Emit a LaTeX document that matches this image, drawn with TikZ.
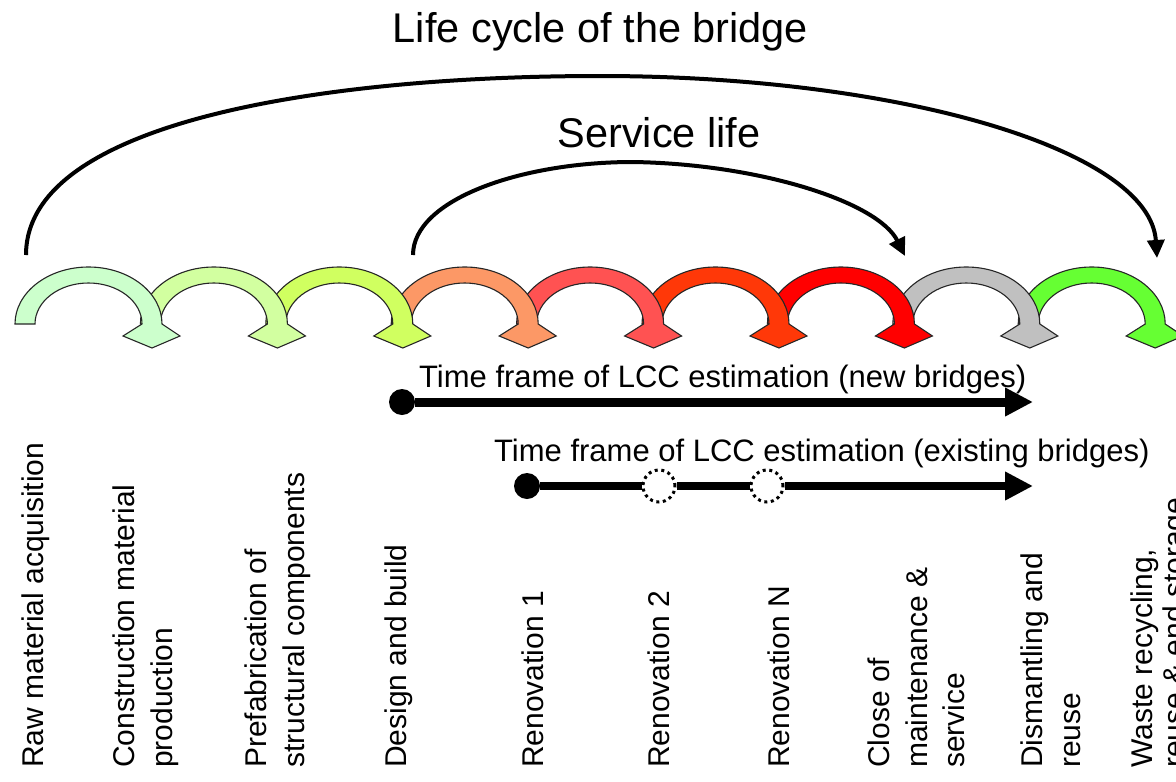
\documentclass[tikz,border=0pt]{standalone}
\usepackage{fontspec}
\setmainfont{Liberation Sans}
\usetikzlibrary{arrows.meta}

\definecolor{stageA}{RGB}{204,255,204}
\definecolor{stageB}{RGB}{210,255,160}
\definecolor{stageC}{RGB}{208,255,96}
\definecolor{stageD}{RGB}{252,152,102}
\definecolor{stageE}{RGB}{255,82,82}
\definecolor{stageF}{RGB}{255,56,8}
\definecolor{stageG}{RGB}{255,0,0}
\definecolor{stageH}{RGB}{192,192,192}
\definecolor{stageI}{RGB}{102,255,51}

\tikzset{
  phase/.style={draw=black!85, line width=1.1pt},
  stagetext/.style={rotate=90, anchor=north west, inner sep=0pt, align=left,
    font=\fontsize{30}{37.5}\selectfont},
  headline/.style={anchor=base, inner sep=0pt, font=\fontsize{41.5}{48}\selectfont},
  frametext/.style={anchor=base west, inner sep=0pt, font=\fontsize{31}{36}\selectfont},
  span/.style={line width=4pt, -{Triangle[length=18pt,width=17pt]}},
  timeline/.style={line width=9pt},
  startdot/.style={circle, fill=black, minimum size=26pt, inner sep=0pt},
  renodot/.style={circle, draw, fill=white, line width=3pt,
    dash pattern=on 3pt off 3.6pt, minimum size=32pt, inner sep=0pt},
}

\begin{document}
\begin{tikzpicture}[x=1pt, y=1pt]
  \useasboundingbox (0,0) rectangle (1176,-782);

  % headings
  \node[headline] (cycle) at (600.5,-42) {Life cycle of the bridge};
  \node[headline] (service) at (659,-147) {Service life};

  % the chain of stage arrows, drawn right to left
  \foreach \k/\col in {8/stageI,7/stageH,6/stageG,5/stageF,4/stageE,3/stageD,2/stageC,1/stageB,0/stageA}
    \filldraw[phase, fill=\col, shift={(\k*125.4,0)}]
      (15,-324) arc[start angle=180, end angle=0, x radius=73.5, y radius=57]
      -- (180,-336) -- (152,-348) -- (123,-336) -- (142,-324)
      arc[start angle=0, end angle=180, x radius=53.5, y radius=41]
      -- cycle;

  % spans over the chain
  \coordinate (c0) at (26,-255);
  \coordinate (c1) at (1157,-258);
  \coordinate (s0) at (413,-255);
  \coordinate (s1) at (905,-256);
  \draw[span] (c0) .. controls (26,-120) and (330,-76) .. (600,-76)
    .. controls (900,-76) and (1150,-150) .. (c1);
  \draw[span] (s0) .. controls (413,-200) and (520,-162) .. (633,-162)
    .. controls (760,-164) and (878,-202) .. (s1);

  % time frames
  \node[frametext] (newtxt) at (419,-387) {Time frame of LCC estimation (new bridges)};
  \node[startdot] (n0) at (402,-402) {};
  \coordinate (n1) at (1033,-402);
  \draw[timeline, -{Triangle[length=28pt,width=27pt]}] (n0) -- (n1);

  \node[frametext] (oldtxt) at (494,-461) {Time frame of LCC estimation (existing bridges)};
  \node[startdot] (e0) at (527,-486) {};
  \node[renodot] (r2) at (659,-486) {};
  \node[renodot] (rN) at (767,-486) {};
  \coordinate (e1) at (1033,-486);
  \begin{scope}[timeline, line width=8pt]
    \draw (e0) -- (r2);
    \draw (r2) -- (rN);
    \draw[-{Triangle[length=28pt,width=27pt]}] (rN) -- (e1);
  \end{scope}

  % stage names
  \node[stagetext] (raw) at (22,-768) {Raw material acquisition};
  \node[stagetext] (prod) at (113,-768) {Construction material\\production};
  \node[stagetext] (prefab) at (245,-768) {Prefabrication of\\structural components};
  \node[stagetext] (build) at (385,-768) {Design and build};
  \node[stagetext] (ren1) at (522,-768) {Renovation 1};
  \node[stagetext] (ren2) at (648,-768) {Renovation 2};
  \node[stagetext] (renN) at (768,-768) {Renovation N};
  \node[stagetext] (close) at (868,-768) {Close of\\maintenance \&\\service};
  \node[stagetext] (dismantle) at (1021,-768) {Dismantling and\\reuse};
  \node[stagetext, font=\fontsize{30}{32}\selectfont] (waste) at (1131,-768)
    {Waste recycling,\\reuse \& end storage};
\end{tikzpicture}
\end{document}
